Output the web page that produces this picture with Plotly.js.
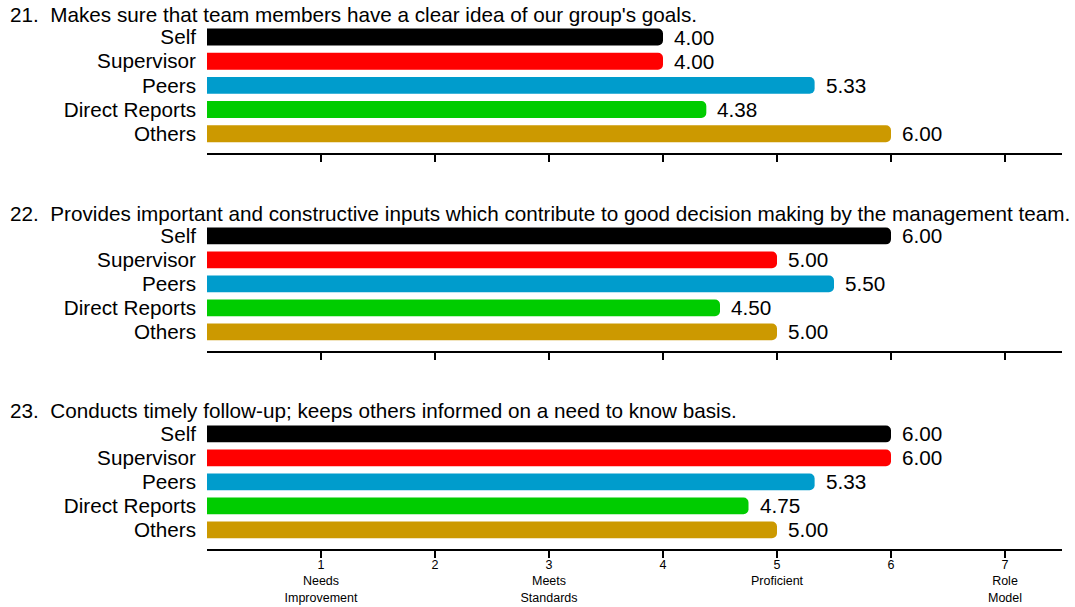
<!DOCTYPE html>
<html>
<head>
<meta charset="utf-8">
<script src="https://cdn.plot.ly/plotly-3.0.1.min.js"></script>
<style>html,body{margin:0;padding:0;background:#fff;}#chart{width:1075px;height:607px;}</style>
</head>
<body>
<div id="chart"></div>
<script>
const categories = ['Self', 'Supervisor', 'Peers', 'Direct Reports', 'Others'];
const colors = ['#000000', '#ff0000', '#009ccc', '#00cc00', '#cc9900'];
const questions = [
  '21.\u00a0 Makes sure that team members have a clear idea of our group\'s goals.',
  '22.\u00a0 Provides important and constructive inputs which contribute to good decision making by the management team.',
  '23.\u00a0 Conducts timely follow-up; keeps others informed on a need to know basis.'
];
const q21 = [4.00, 4.00, 5.33, 4.38, 6.00];
const q22 = [6.00, 5.00, 5.50, 4.50, 5.00];
const q23 = [6.00, 6.00, 5.33, 4.75, 5.00];
const tickVals = [1, 2, 3, 4, 5, 6, 7];
const tickText = ['1<br>Needs<br>Improvement', '2', '3<br>Meets<br>Standards', '4', '5<br>Proficient', '6', '7<br>Role<br>Model'];

const series = [q21, q22, q23];
const FONT = '"Liberation Sans", Arial, sans-serif';
const BIG = 20.7;
const yDomains = [[0.72131, 0.95446], [0.36066, 0.59199], [0, 0.23133]];
const titleY = [0.97268, 0.61202, 0.25137];

const data = [];
const annotations = [];
const layout = {
  width: 1075, height: 607,
  margin: {l: 207, r: 13, t: 0, b: 58},
  paper_bgcolor: '#ffffff', plot_bgcolor: '#ffffff',
  showlegend: false,
  font: {family: FONT, color: '#000000'},
  bargap: 0.3,
  barcornerradius: 5
};

series.forEach((vals, i) => {
  const sfx = i === 0 ? '' : String(i + 1);
  data.push({
    type: 'bar', orientation: 'h',
    x: vals, y: categories,
    xaxis: 'x' + sfx, yaxis: 'y' + sfx,
    width: 0.7,
    marker: {color: colors, cornerradius: 5, line: {width: 0}},
    hoverinfo: 'x+y'
  });
  vals.forEach((v, j) => {
    annotations.push({
      xref: 'x' + sfx, yref: 'y' + sfx,
      x: v, y: categories[j],
      text: v.toFixed(2),
      xanchor: 'left', yanchor: 'middle',
      xshift: 9, showarrow: false,
      font: {size: BIG, family: FONT, color: '#000000'}
    });
  });
  annotations.push({
    xref: 'paper', yref: 'paper',
    x: -0.2327, y: titleY[i],
    xanchor: 'left', yanchor: 'middle',
    text: questions[i], showarrow: false,
    font: {size: BIG, family: FONT, color: '#000000'}
  });
  layout['xaxis' + sfx] = {
    anchor: 'y' + sfx,
    range: [0, 7.5],
    showgrid: false, zeroline: false,
    showline: true, linewidth: 2, linecolor: '#000000',
    ticks: 'outside', ticklen: 7, tickwidth: 2, tickcolor: '#000000',
    tickmode: 'array', tickvals: tickVals, ticktext: tickText,
    showticklabels: i === 2,
    ticklabelstandoff: -4,
    tickfont: {size: 12.5, family: FONT, color: '#000000'},
    fixedrange: true
  };
  layout['yaxis' + sfx] = {
    anchor: 'x' + sfx,
    domain: yDomains[i],
    type: 'category',
    categoryorder: 'array', categoryarray: categories,
    tickmode: 'array', tickvals: categories, ticktext: categories,
    range: [4.8, -0.5],
    showgrid: false, zeroline: false, showline: false,
    ticks: '', ticklabelstandoff: 10,
    tickfont: {size: BIG, family: FONT, color: '#000000'},
    fixedrange: true
  };
});
layout.annotations = annotations;

Plotly.newPlot('chart', data, layout, {displayModeBar: false, staticPlot: true});
</script>
</body>
</html>
